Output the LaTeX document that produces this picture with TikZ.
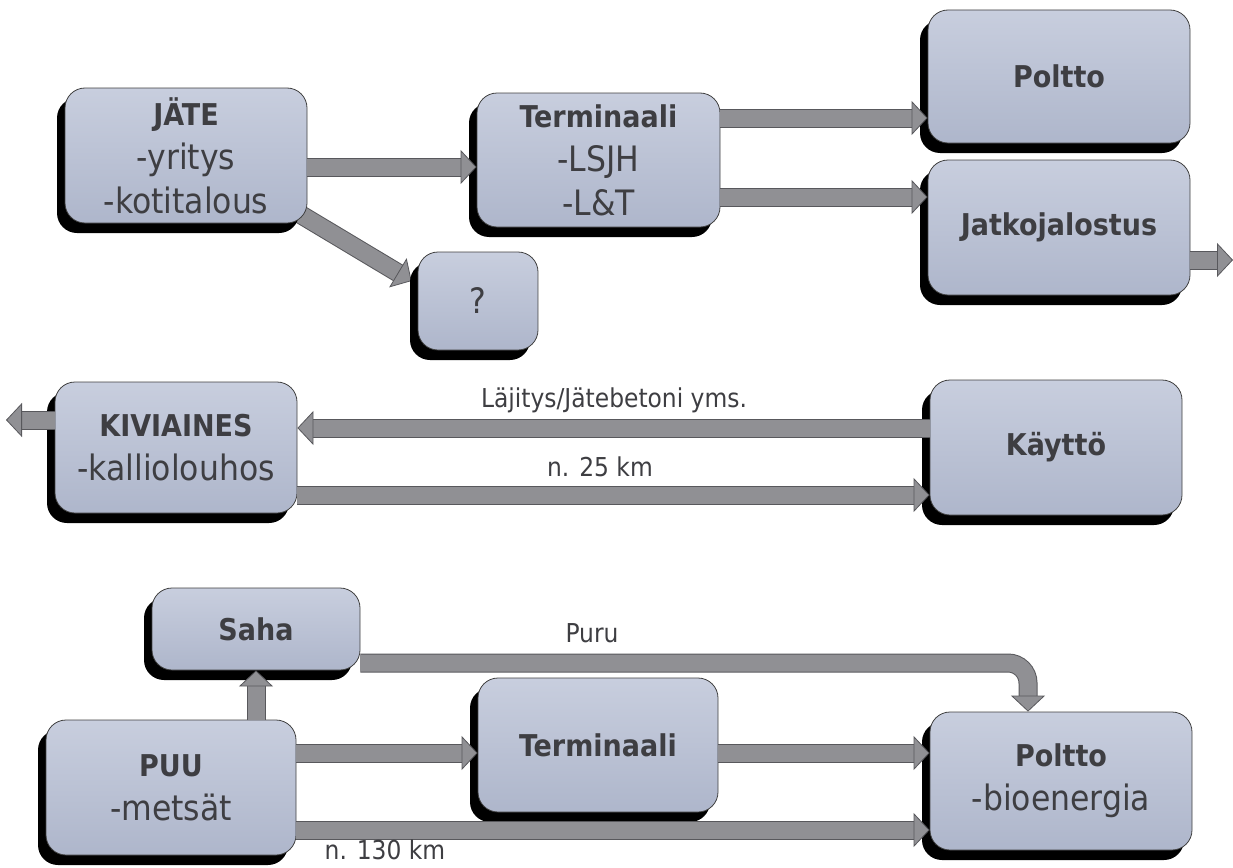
\documentclass[tikz,border=0pt]{standalone}
\usepackage{fontspec}
\setmainfont{DejaVu Sans Condensed}
\usepackage{tikz}
\usetikzlibrary{arrows.meta,shadows,backgrounds}

\definecolor{boxtop}{RGB}{200,206,222}
\definecolor{boxbot}{RGB}{174,182,203}
\definecolor{boxtext}{RGB}{62,62,66}
\definecolor{flowgrey}{RGB}{144,144,148}
\definecolor{flowedge}{RGB}{88,88,92}

\newcommand{\boxhead}[1]{{\fontsize{30}{44}\selectfont\bfseries #1}}

\begin{document}
\begin{tikzpicture}[x=1pt, y=-1pt,
  stage/.style={draw=black!75, line width=0.8pt, rounded corners=20pt,
    top color=boxtop, bottom color=boxbot, text=boxtext, align=center,
    inner sep=0pt, font=\fontsize{35}{44}\selectfont,
    drop shadow={shadow xshift=-8pt, shadow yshift=-10pt, opacity=1, fill=black}},
  flow/.style={draw=flowgrey, line width=17pt,
    -{Triangle[width=34pt, length=16pt, line width=0.8pt, fill=flowgrey, color=flowedge]},
    preaction={draw=flowedge, line width=19pt, arrows=-, shorten >=15pt}},
  flowlbl/.style={text=boxtext, inner sep=1pt, font=\fontsize{26}{30}\selectfont}]
  \useasboundingbox (0,0) rectangle (1233,867);

  % jate
  \node[stage, minimum width=242pt, minimum height=135pt] (jate) at (186,155.5)
      {\boxhead{JÄTE}\\-yritys\\-kotitalous};
  \node[stage, minimum width=243pt, minimum height=134pt] (term1) at (598.5,160)
      {\boxhead{Terminaali}\\-LSJH\\-L\&T};
  \node[stage, minimum width=262pt, minimum height=133pt] (poltto1) at (1059,76.5)
      {\boxhead{Poltto}};
  \node[stage, minimum width=262pt, minimum height=135pt] (jatko) at (1059,227.5)
      {\boxhead{Jatkojalostus}};
  \node[stage, minimum width=120pt, minimum height=98pt] (que) at (478,301) {?};

  % kiviaines
  \node[stage, minimum width=242pt, minimum height=131pt] (kivi) at (176,447.5)
      {\boxhead{KIVIAINES}\\-kalliolouhos};
  \node[stage, minimum width=252pt, minimum height=135pt] (kaytto) at (1056,447.5)
      {\boxhead{Käyttö}};

  % puu
  \node[stage, minimum width=208pt, minimum height=82pt] (saha) at (256,629)
      {\boxhead{Saha}};
  \node[stage, minimum width=250pt, minimum height=135pt] (puu) at (171,787.5)
      {\boxhead{PUU}\\-metsät};
  \node[stage, minimum width=240pt, minimum height=134pt] (term2) at (598,745)
      {\boxhead{Terminaali}};
  \node[stage, minimum width=262pt, minimum height=138pt] (poltto2) at (1061,781)
      {\boxhead{Poltto}\\-bioenergia};

  \coordinate (jatout) at (1233,260);
  \coordinate (kivout) at (6,420);

  \begin{scope}[on background layer]
    \draw[flow] ([shift={(-12,-12)}]jate.south east) -- ([shift={(-6,-20)}]que.west);
  \end{scope}
  \draw[flow] ([yshift=-11.5pt]jate.east) -- ([yshift=-11.5pt]jate.east -| term1.west);
  \draw[flow] ([yshift=42pt]term1.east) -- ([yshift=42pt]term1.east -| poltto1.west);
  \draw[flow] ([yshift=-37pt]term1.east) -- ([yshift=-37pt]term1.east -| jatko.west);
  \draw[flow] (jatko.east |- jatout) -- (jatout);

  \draw[flow] ([yshift=19.5pt]kaytto.west) -- ([yshift=19.5pt]kaytto.west -| kivi.east);
  \draw[flow] (kivi.west |- kivout) -- (kivout);
  \draw[flow] ([yshift=-47.5pt]kivi.east) -- ([yshift=-47.5pt]kivi.east -| kaytto.west);

  \draw[flow] (puu.north -| saha.south) -- (saha.south);
  \draw[flow, rounded corners=20pt] ([yshift=-34pt]saha.east) -| ([xshift=-33pt]poltto2.north);
  \draw[flow] ([yshift=34.5pt]puu.east) -- ([yshift=34.5pt]puu.east -| term2.west);
  \draw[flow] ([yshift=-8pt]term2.east) -- ([yshift=-8pt]term2.east -| poltto2.west);
  \draw[flow] ([yshift=-42.5pt]puu.east) -- ([yshift=-42.5pt]puu.east -| poltto2.west);

  \node[flowlbl] (lajitys) at (614,400) {Läjitys/Jätebetoni yms.};
  \node[flowlbl] (km25) at (600,467) {n. 25 km};
  \node[flowlbl] (puru) at (592,633) {Puru};
  \node[flowlbl] (km130) at (385,850) {n. 130 km};
\end{tikzpicture}
\end{document}
